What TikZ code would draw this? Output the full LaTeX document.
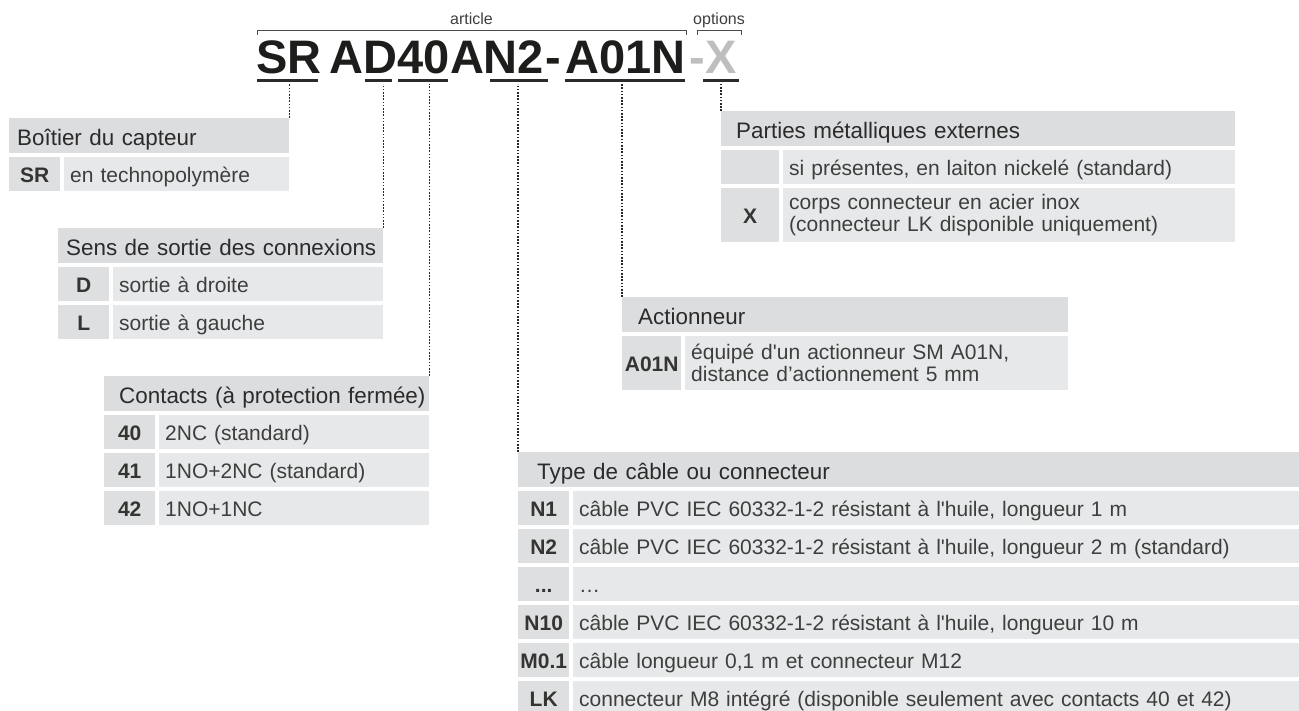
\documentclass[tikz,border=0pt]{standalone}
\usepackage{fontspec}
\setmainfont{Liberation Sans}
\definecolor{headgray}{HTML}{DCDDDF}
\definecolor{keygray}{HTML}{DEDFE0}
\definecolor{valgray}{HTML}{E7E8E9}
\definecolor{txtgray}{HTML}{3E3E3E}
\definecolor{inkdark}{HTML}{1D1D1B}
\definecolor{optgray}{HTML}{BDBEC0}
\definecolor{linegray}{HTML}{2B2B2B}
\tikzset{
  code_text/.style={anchor=base west, inner sep=0pt, text=inkdark,
      font=\fontsize{47}{47}\selectfont\bfseries},
  u_line/.style={line width=2.5pt, linegray},
  dot_line/.style={line width=1.8pt, black!85, dash pattern=on 1.6pt off 1.6pt},
  bracket_line/.style={line width=0.9pt, linegray!85},
  bracket_label/.style={anchor=base, inner sep=0pt, yshift=5pt, text=txtgray,
      font=\fontsize{16}{16}\selectfont},
  head_cell/.style={anchor=north west, fill=headgray, minimum height=35pt,
      inner xsep=15pt, inner ysep=0pt, align=left, text=linegray,
      text height=19pt, text depth=0pt, font=\fontsize{22.4}{22.4}\selectfont},
  key_cell/.style={anchor=north west, fill=keygray, minimum height=34pt,
      inner sep=0pt, text=inkdark!90, text height=17pt, text depth=0pt,
      font=\fontsize{21}{21}\selectfont\bfseries},
  val_cell/.style={anchor=north west, fill=valgray, minimum height=34pt,
      inner xsep=6pt, inner ysep=0pt, align=left, text=txtgray,
      text height=17pt, text depth=0pt, font=\fontsize{21}{21}\selectfont},
  val_cell2/.style={anchor=north west, fill=valgray, minimum height=54pt,
      inner xsep=6pt, inner ysep=0pt, align=left, text=txtgray,
      font=\fontsize{21}{22}\selectfont}
}
\def\KeyDots{...}
\def\Huile{l\textquotesingle huile}

\begin{document}
\begin{tikzpicture}[x=1pt,y=-1pt]
  \useasboundingbox (0,0) rectangle (1299,711);
  \coordinate (ul) at (0,84);

  \node[code_text] (code) at (256.4,74)
      {SR\hspace*{8pt}AD40AN2\kern2pt-\kern4pt A01N\kern4pt\textcolor{optgray}{-X}};
  \foreach \a/\b in {257/318, 365/392, 398/448, 490/548, 565/685, 703/739}
    \draw[u_line] (\a,80.5) -- (\b,80.5);

  \draw[bracket_line] (257,35) -- ++(0,-5)
      -- node[bracket_label] (lbl_article) {article} ++(429,0) -- ++(0,5);
  \draw[bracket_line] (697,35) -- ++(0,-5)
      -- node[bracket_label] (lbl_options) {options} ++(44,0) -- ++(0,5);

  \node[head_cell, inner xsep=8pt, text width=264pt] (boitier) at (9,118) {\mbox{Boîtier du capteur}};
  \node[key_cell, minimum width=51pt] (boitier_k0) at (9,157) {SR};
  \node[val_cell, text width=213pt] (boitier_v0) at (64,157) {en technopolymère};

  \node[head_cell, inner xsep=8pt, text width=309pt] (sens) at (58,228) {\mbox{Sens de sortie des connexions}};
  \foreach \k/\t [count=\i from 0] in {D/sortie à droite, L/sortie à gauche} {
    \node[key_cell, minimum width=51pt] (sens_k\i) at (58,{267+38*\i}) {\k};
    \node[val_cell, text width=258pt] (sens_v\i) at (113,{267+38*\i}) {\t};
  }

  \node[head_cell, text width=295pt] (contacts) at (104,376) {\mbox{Contacts (à protection fermée)}};
  \foreach \k/\t [count=\i from 0] in {40/2NC (standard), 41/1NO+2NC (standard), 42/1NO+1NC} {
    \node[key_cell, minimum width=51pt] (contacts_k\i) at (104,{415+38*\i}) {\k};
    \node[val_cell, text width=258pt] (contacts_v\i) at (159,{415+38*\i}) {\t};
  }

  \node[head_cell, text width=484pt] (parties) at (721,111) {\mbox{Parties métalliques externes}};
  \node[key_cell, minimum width=58pt] (parties_k0) at (721,150) {};
  \node[val_cell, text width=440pt] (parties_v0) at (783,150) {si présentes, en laiton nickelé (standard)};
  \node[key_cell, minimum width=58pt, minimum height=54pt] (parties_k1) at (721,188) {X};
  \node[val_cell2, text width=440pt] (parties_v1) at (783,188)
      {corps connecteur en acier inox\\(connecteur LK disponible uniquement)};

  \node[head_cell, inner xsep=16pt, text width=414pt] (actionneur) at (622,297) {\mbox{Actionneur}};
  \node[key_cell, minimum width=59pt, minimum height=54pt] (actionneur_k0) at (622,336) {A01N};
  \node[val_cell2, text width=371pt] (actionneur_v0) at (685,336)
      {équipé d\textquotesingle un actionneur SM A01N,\\distance d’actionnement 5 mm};

  \node[head_cell, inner xsep=19pt, text width=743pt] (cable) at (518,452) {\mbox{Type de câble ou connecteur}};
  \foreach \k/\t [count=\i from 0] in {
      N1/{câble PVC IEC 60332-1-2 résistant à \Huile, longueur 1 m},
      N2/{câble PVC IEC 60332-1-2 résistant à \Huile, longueur 2 m (standard)},
      \KeyDots/{…},
      N10/{câble PVC IEC 60332-1-2 résistant à \Huile, longueur 10 m},
      M0.1/{câble longueur 0,1 m et connecteur M12},
      LK/{connecteur M8 intégré (disponible seulement avec contacts 40 et 42)}} {
    \node[key_cell, minimum width=51pt] (cable_k\i) at (518,{491+38*\i}) {\k};
    \node[val_cell, text width=714pt] (cable_v\i) at (573,{491+38*\i}) {\t};
  }

  \draw[dot_line] (boitier.north east) -- (boitier.north east |- ul);
  \draw[dot_line] (sens.north east) -- (sens.north east |- ul);
  \draw[dot_line] (contacts.north east) -- (contacts.north east |- ul);
  \draw[dot_line] (cable.north west) -- (cable.north west |- ul);
  \draw[dot_line] (actionneur.north west) -- (actionneur.north west |- ul);
  \draw[dot_line] (parties.north west) -- (parties.north west |- ul);
\end{tikzpicture}
\end{document}
